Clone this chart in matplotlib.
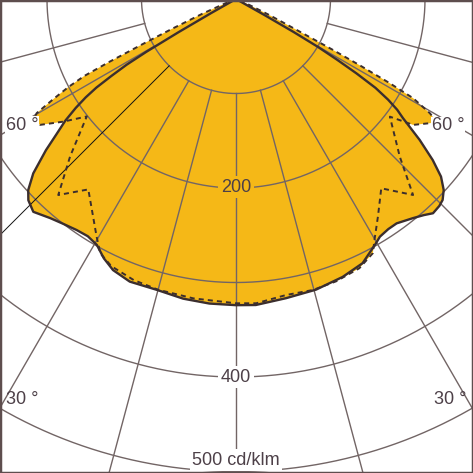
import numpy as np
import matplotlib
matplotlib.use("Agg")
import matplotlib.pyplot as plt
from matplotlib.patches import Rectangle

# ---------------- data (cd/klm, angle from nadir in degrees) ----------------
# solid curve, right half
ang_solid_right = [0, 3.7, 9.5, 15.4, 21, 25.6, 29.6, 31.2, 33.5, 35.6, 38.9, 41, 42.6, 44.5,
                   45.8, 47.4, 49.1, 50.7, 52.5, 54.5, 55.5, 56.5, 57.5, 58.3, 59, 59.7, 60.2, 60.6, 61]
val_solid_right = [324, 324.5, 321, 319, 315, 310, 298.5, 294, 292, 292, 298, 303, 308, 307,
                   305, 298.6, 287, 269, 245, 217, 207, 193, 175, 150, 125, 100, 70, 35, 0]
# solid curve, left half
ang_solid_left = [0, 5, 10, 15.2, 20.6, 24.4, 27, 29.5, 32, 34.6, 37.5, 40.3, 43.6, 45.9,
                  47.4, 49.3, 51.5, 53, 54.5, 55.8, 56.8, 57.6, 58.3, 59, 59.5, 60, 60.5, 61]
val_solid_left = [324, 323.5, 322, 319, 319.5, 315, 308, 299, 296, 297, 300, 304, 311, 306,
                  298.7, 283, 257, 238, 222, 205, 190, 175, 155, 135, 110, 70, 30, 0]
# dashed curve, right half
ang_dash_right = [0, 3.8, 9.6, 14.8, 19.5, 24.6, 28.3, 29.9, 33.1, 37.5, 42.1, 46.1, 52.6,
                  54.6, 57.8, 58.9, 59.5, 60.75, 61.3, 61.8, 62.3, 62.8, 63.5, 64.3, 66, 68]
val_dash_right = [322, 322.7, 317.7, 318.5, 317, 313.4, 305.5, 294, 275, 252.5, 279.5, 240.5, 205,
                  230, 246, 245, 238, 215, 185, 150, 115, 80, 55, 39, 15, 0]
# dashed curve, left half
ang_dash_left = [0, 8.1, 15, 20, 25, 28.1, 30.4, 34.4, 37.8, 42.2, 46.5, 51.8,
                 54.6, 57.3, 59.2, 60.2, 61.3, 62.3, 63.1, 63.6, 64.2, 65, 66.4, 68, 70]
val_dash_left = [322, 320, 318.5, 316.5, 312, 305, 291.5, 270, 255, 280, 242, 201,
                 224, 246.6, 250, 243, 220, 200, 180, 150, 110, 75, 38, 12, 0]

ring_values = [100, 200, 300, 400, 500]
ring_labels = {200: "200", 400: "400"}
unit_label = "500 cd/klm"
spoke_angles = [-90, -75, -60, -45, -30, -15, 0, 15, 30, 45, 60, 75, 90]
angle_labels = [("60 °", -59.5, 262.8), ("60 °", 59.1, 261.5),
                ("30 °", -28.1, 481), ("30 °", 28.1, 481)]

# ---------------- style ----------------
FILL = "#F5B817"
GRID = "#726565"
CURVE = "#3b2e2e"
TEXT = "#4d4048"
plt.rcParams["font.family"] = ["Liberation Sans", "DejaVu Sans"]

W = 473
fig = plt.figure(figsize=(W / 100, W / 100), dpi=100)
RMAX = 600
px_per_unit = 0.945
fr = RMAX * px_per_unit / W
cx = 236 / W
cy = (W + 1) / W
ax = fig.add_axes([cx - fr, cy - fr, 2 * fr, 2 * fr], projection="polar")
ax.set_theta_zero_location("S")
ax.set_theta_direction(1)
ax.set_ylim(0, RMAX)
ax.set_axis_off()

d2r = np.deg2rad


def full_curve(ang_left, val_left, ang_right, val_right):
    th = np.concatenate([-np.array(ang_left[::-1]), np.array(ang_right[1:])])
    r = np.concatenate([np.array(val_left[::-1]), np.array(val_right[1:])])
    return d2r(th), r


th_s, r_s = full_curve(ang_solid_left, val_solid_left, ang_solid_right, val_solid_right)
th_d, r_d = full_curve(ang_dash_left, val_dash_left, ang_dash_right, val_dash_right)

# fill (union of both curves)
ax.fill(th_s, r_s, color=FILL, lw=0, zorder=1)
ax.fill(th_d, r_d, color=FILL, lw=0, zorder=1)

# grid
tc = np.linspace(-np.pi, np.pi, 1441)
for rv in ring_values:
    ax.plot(tc, np.full_like(tc, rv), color=GRID, lw=1.0, zorder=2)
for a in spoke_angles:
    if a == -45:
        ax.plot([d2r(a), d2r(a)], [100, RMAX], color="#111111", lw=0.7, zorder=2)
    else:
        ax.plot([d2r(a), d2r(a)], [100, RMAX], color=GRID, lw=1.0, zorder=2)

# curves
ax.plot(th_d, r_d, color=CURVE, lw=1.4, ls=(0, (2.6, 2.1)), zorder=3)
ax.plot(th_s, r_s, color=CURVE, lw=1.7, zorder=3, solid_joinstyle="round")

# labels
ax.text(0, 199, ring_labels[200], ha="center", va="center", fontsize=13, color=TEXT, zorder=5,
        bbox=dict(fc=FILL, ec="none", pad=2))
ax.text(0, 400, ring_labels[400], ha="center", va="center", fontsize=13, color=TEXT, zorder=5,
        bbox=dict(fc="white", ec="none", pad=2))
ax.text(0, 488, unit_label, ha="center", va="center", fontsize=13, color=TEXT, zorder=5,
        bbox=dict(fc="white", ec="none", pad=1.5))
for txt, a, r in angle_labels:
    ax.text(d2r(a), r, txt, ha="center", va="center", fontsize=13, color=TEXT, zorder=5,
            bbox=dict(fc="white", ec="none", pad=0.5) if abs(a) > 45 else None)

fig.add_artist(Rectangle((0, 0), 1, 1, transform=fig.transFigure, fill=False,
                         ec="#5e4e4e", lw=2.5, zorder=10))

fig.savefig("out.png", dpi=100)
